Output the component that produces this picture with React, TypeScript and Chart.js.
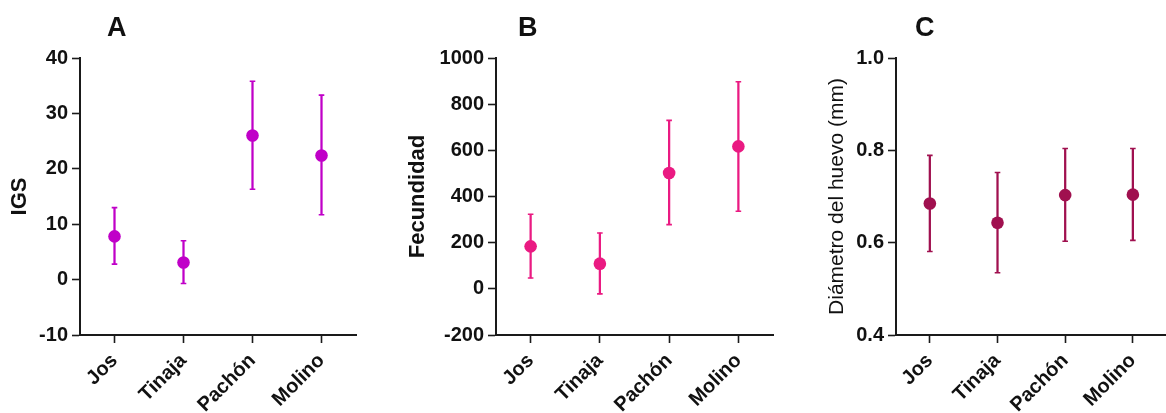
import React, { useEffect, useRef } from "react";
import { Chart, registerables } from "chart.js";

Chart.register(...registerables);

const categories = ["Jos", "Tinaja", "Pachón", "Molino"];

// Panel A: IGS
const igsMean = [7.8, 3.1, 26.0, 22.4];
const igsLow = [2.8, -0.7, 16.3, 11.7];
const igsHigh = [13.0, 7.0, 35.8, 33.3];

// Panel B: Fecundidad
const fecMean = [184, 109, 502, 617];
const fecLow = [47, -22, 278, 336];
const fecHigh = [323, 242, 730, 897];

// Panel C: Diámetro del huevo (mm)
const diaMean = [0.685, 0.643, 0.703, 0.704];
const diaLow = [0.581, 0.535, 0.603, 0.605];
const diaHigh = [0.789, 0.752, 0.804, 0.804];

const FONT = "'Liberation Sans', Arial, Helvetica, sans-serif";
const INK = "#1a1a1a";

type Panel = {
  letter: string;
  letterLeft: number;
  left: number;
  width: number;
  axisWidth: number;
  padRight: number;
  yMin: number;
  yMax: number;
  step: number;
  decimals: number;
  yTitle: string;
  yTitleBold: boolean;
  yTitleSize: number;
  yTitlePad: number;
  color: string;
  mean: number[];
  low: number[];
  high: number[];
};

const panels: Panel[] = [
  {
    letter: "A", letterLeft: 107, left: 0, width: 390, axisWidth: 80, padRight: 34,
    yMin: -10, yMax: 40, step: 10, decimals: 0,
    yTitle: "IGS", yTitleBold: true, yTitleSize: 22, yTitlePad: 7,
    color: "#C000C8", mean: igsMean, low: igsLow, high: igsHigh,
  },
  {
    letter: "B", letterLeft: 518, left: 390, width: 390, axisWidth: 106, padRight: 7,
    yMin: -200, yMax: 1000, step: 200, decimals: 0,
    yTitle: "Fecundidad", yTitleBold: true, yTitleSize: 22, yTitlePad: 15,
    color: "#EA1A82", mean: fecMean, low: fecLow, high: fecHigh,
  },
  {
    letter: "C", letterLeft: 915, left: 780, width: 393, axisWidth: 116, padRight: 0,
    yMin: 0.4, yMax: 1.0, step: 0.2, decimals: 1,
    yTitle: "Diámetro del huevo (mm)", yTitleBold: false, yTitleSize: 21, yTitlePad: 45,
    color: "#A0104F", mean: diaMean, low: diaLow, high: diaHigh,
  },
];

const H = 413;

function PanelChart({ p }: { p: Panel }) {
  const ref = useRef<HTMLCanvasElement | null>(null);
  useEffect(() => {
    if (!ref.current) return;
    const tickFont = { family: FONT, size: 20, weight: "bold" as const };
    const capCfg = {
      type: "line" as const,
      showLine: false,
      pointStyle: "line" as const,
      pointRadius: 2.8,
      pointHoverRadius: 2.8,
      borderColor: p.color,
      backgroundColor: p.color,
      borderWidth: 1.6,
      order: 2,
    };
    const chart = new Chart(ref.current, {
      type: "bar",
      data: {
        labels: categories,
        datasets: [
          {
            type: "bar",
            data: p.low.map((l, i) => [l, p.high[i]]) as any,
            backgroundColor: p.color,
            borderWidth: 0,
            barThickness: 1.6,
            order: 3,
          },
          { ...capCfg, data: p.high },
          { ...capCfg, data: p.low },
          {
            type: "line",
            data: p.mean,
            showLine: false,
            pointStyle: "circle",
            pointRadius: 6.3,
            pointHoverRadius: 6.3,
            backgroundColor: p.color,
            borderColor: p.color,
            borderWidth: 0,
            order: 1,
          },
        ] as any,
      },
      options: {
        animation: false,
        responsive: false,
        maintainAspectRatio: false,
        events: [],
        layout: { padding: { top: 58, right: p.padRight, left: 0, bottom: 0 } },
        plugins: { legend: { display: false }, tooltip: { enabled: false }, title: { display: false } },
        scales: {
          x: {
            type: "category",
            offset: true,
            grid: {
              display: true,
              offset: false,
              drawOnChartArea: false,
              drawTicks: true,
              tickLength: 8,
              tickWidth: 1.6,
              tickColor: INK,
            },
            border: { display: true, color: INK, width: 2 },
            ticks: {
              font: tickFont,
              color: "#111",
              maxRotation: 45,
              minRotation: 45,
              autoSkip: false,
              padding: 6,
            },
            afterFit: (s: any) => {
              s.height = H - 335;
            },
          },
          y: {
            min: p.yMin,
            max: p.yMax,
            grid: {
              display: true,
              drawOnChartArea: false,
              drawTicks: true,
              tickLength: 8,
              tickWidth: 1.6,
              tickColor: INK,
            },
            border: { display: true, color: INK, width: 2 },
            ticks: {
              stepSize: p.step,
              font: tickFont,
              color: "#111",
              padding: 4,
              callback: (v: any) => Number(v).toFixed(p.decimals),
            },
            title: {
              display: true,
              text: p.yTitle,
              color: "#111",
              font: { family: FONT, size: p.yTitleSize, weight: p.yTitleBold ? "bold" : "normal" },
              padding: { top: p.yTitlePad, bottom: 0 },
            },
            afterFit: (s: any) => {
              s.width = p.axisWidth;
            },
          },
        },
      } as any,
    });
    return () => chart.destroy();
  }, [p]);
  return (
    <canvas
      ref={ref}
      width={p.width}
      height={H}
      style={{ position: "absolute", left: p.left, top: 0, width: p.width, height: H }}
    />
  );
}

export default function App() {
  return (
    <div
      style={{
        position: "fixed",
        left: 0,
        top: 0,
        width: 1166,
        height: H,
        overflow: "hidden",
        background: "#fff",
      }}
    >
      {panels.map((p) => (
        <PanelChart key={p.letter} p={p} />
      ))}
      {panels.map((p) => (
        <div
          key={"t" + p.letter}
          style={{
            position: "absolute",
            left: p.letterLeft,
            top: 14,
            fontFamily: FONT,
            fontWeight: "bold",
            fontSize: 27,
            lineHeight: "27px",
            color: "#111",
          }}
        >
          {p.letter}
        </div>
      ))}
    </div>
  );
}
